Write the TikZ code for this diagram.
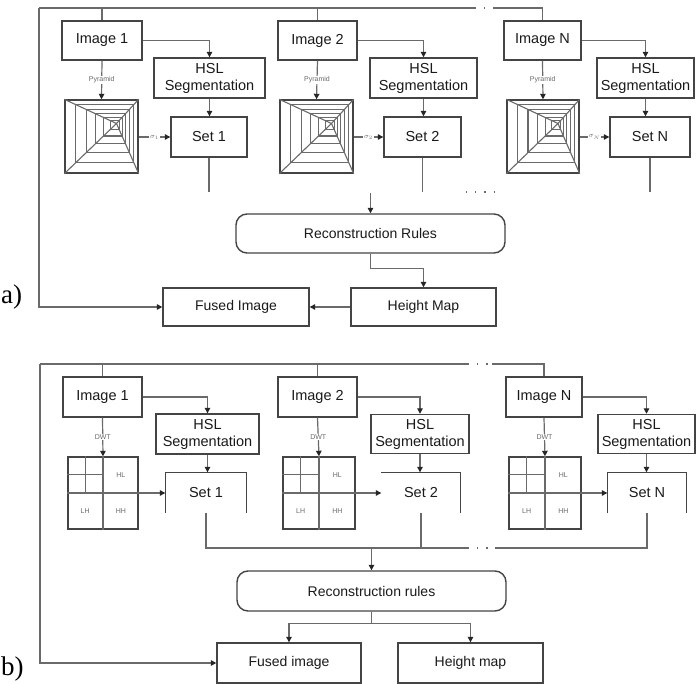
\documentclass[tikz,border=0pt]{standalone}
\usepackage{fontspec}
\setmainfont{Liberation Sans}
\newfontfamily\serifA{Liberation Serif}
\usetikzlibrary{arrows.meta,calc}
\definecolor{lc}{HTML}{6A6A6A}
\definecolor{bc}{HTML}{444444}
\definecolor{tc}{HTML}{1A1A1A}
\tikzset{
 box/.style={draw=bc, line width=1.4pt, inner sep=0pt, text=tc, font=\fontsize{14.5}{17}\selectfont, align=center},
 sbox/.style={box, font=\fontsize{14}{16}\selectfont},
 nobox/.style={box, draw=none},
 conn/.style={draw=lc, line width=1.2pt},
 outer/.style={draw=lc, line width=1.8pt},
 arr/.style={conn, -{Triangle[width=5.5pt,length=5.5pt,color=black!85]}},
 oarr/.style={outer, -{Triangle[width=5.5pt,length=5.5pt,color=black!85]}},
 lab/.style={fill=white, inner sep=1pt, text=lc, font=\fontsize{7}{8}\selectfont},
 glab/.style={inner sep=0pt, text=lc, font=\fontsize{7}{8}\selectfont},
 pyl/.style={draw=lc, line width=1.1pt},
 gridl/.style={draw=lc, line width=1.1pt},
 dots/.style={draw=lc, line width=1.2pt, dash pattern=on 1.2pt off 8pt},
 plabel/.style={inner sep=0pt, anchor=base west, text=black, font=\serifA\fontsize{27}{27}\selectfont},
}
\newcommand\pyrdraw[1]{%
 \coordinate (#1P) at ($(#1.center)+(15,-13)$);
 \foreach \t in {0.22,0.42,0.6,0.75,0.88}{
  \draw[pyl] ($(#1.north west)!\t!(#1P)$) rectangle ($(#1.south east)!\t!(#1P)$);
 }
 \draw[pyl] (#1.north west) -- (#1P);
 \draw[pyl] (#1.north east) -- (#1P);
 \draw[pyl] (#1.south west) -- (#1P);
 \draw[pyl] (#1.south east) -- (#1P);
}
\newcommand\griddraw[1]{%
 \draw[gridl] (#1.west) -- (#1.east);
 \draw[gridl] ($(#1.north west)!0.5!(#1.west)$) -- ($(#1.north)!0.5!(#1.center)$);
 \draw[gridl] ($(#1.north west)!0.5!(#1.north)$) -- ($(#1.west)!0.5!(#1.center)$);
 \draw[draw=lc, line width=2.4pt] (#1.north) -- (#1.south);
 \node[glab] (#1hl) at ($(#1.north east)!0.5!(#1.center)$) {HL};
 \node[glab] (#1lh) at ($(#1.south west)!0.5!(#1.center)$) {LH};
 \node[glab] (#1hh) at ($(#1.south east)!0.5!(#1.center)$) {HH};
}
\begin{document}
\begin{tikzpicture}[x=1pt,y=-1pt]
\useasboundingbox[fill=white] (0,0) rectangle (697,684);

% ================= part a =================
\node[box, minimum width=80pt, minimum height=39pt] (img1a) at (102,40.5) {Image 1};
\node[box, minimum width=79pt, minimum height=39pt] (img2a) at (317.5,40.5) {Image 2};
\node[box, minimum width=77pt, minimum height=39pt] (imgNa) at (542.5,40.5) {Image N};
\node[box, minimum width=111pt, minimum height=40pt] (hsl1a) at (209.5,78) {HSL\\Segmentation};
\node[box, minimum width=107pt, minimum height=40pt] (hsl2a) at (423.5,78) {HSL\\Segmentation};
\node[box, minimum width=97pt, minimum height=40pt] (hslNa) at (645.5,78) {HSL\\Segmentation};
\node[box, minimum width=76pt, minimum height=40pt] (set1a) at (209,137) {Set 1};
\node[box, minimum width=77pt, minimum height=40pt] (set2a) at (422.5,137) {Set 2};
\node[box, minimum width=80pt, minimum height=40pt] (setNa) at (650,137) {Set N};
\node[box, minimum width=73pt, minimum height=73pt] (pyr1) at (101.5,136.5) {};
\node[box, minimum width=73pt, minimum height=73pt] (pyr2) at (316.5,136.5) {};
\node[box, minimum width=72pt, minimum height=73pt] (pyrN) at (543,136.5) {};
\pyrdraw{pyr1}
\pyrdraw{pyr2}
\pyrdraw{pyrN}
\node[sbox, rounded corners=11pt, minimum width=269pt, minimum height=39pt] (recA) at (370.5,233.5) {Reconstruction Rules};
\node[sbox, minimum width=146pt, minimum height=38pt] (fusedA) at (236,307) {Fused Image};
\node[sbox, minimum width=145pt, minimum height=38pt] (heightA) at (423.5,307) {Height Map};

\coordinate (ca) at (39,8);
\coordinate (ga1) at (475,8);
\coordinate (ga2) at (495,8);
\draw[outer] (ca) -- (ga1);
\draw[dots] (ga1) -- (ga2);
\draw[outer] (ga2) -| (imgNa.north);
\draw[outer] (img1a.north |- ca) -- (img1a.north);
\draw[outer] (img2a.north |- ca) -- (img2a.north);
\draw[oarr] (ca) |- (fusedA.west);

\foreach \i in {1,2,N}{
 \draw[arr] (img\i a.east) -| (hsl\i a.north);
 \draw[arr] (hsl\i a.south) -- (hsl\i a.south |- set\i a.north);
 \draw[arr] (img\i a.south) -- node[lab] (py\i) {Pyramid} (pyr\i.north);
}
\draw[arr] (pyr1.east |- set1a.west) -- node[lab] (sg1) {$\sigma_1$} (set1a.west);
\draw[arr] (pyr2.east |- set2a.west) -- node[lab] (sg2) {$\sigma_2$} (set2a.west);
\draw[arr] (pyrN.east |- setNa.west) -- node[lab] (sgN) {$\sigma_N$} (setNa.west);

\coordinate (stA) at (0,192);
\draw[conn] (set1a.south) -- (set1a.south |- stA);
\draw[conn] (set2a.south) -- (set2a.south |- stA);
\draw[conn] (setNa.south) -- (setNa.south |- stA);
\coordinate (da1) at (466,192);
\coordinate (da2) at (502,192);
\draw[dots] (da1) -- (da2);
\draw[arr] (recA.north |- 0,193) -- (recA.north);
\draw[arr] (recA.south) -- ++(0,15) -| (heightA.north);
\draw[arr] (heightA.west) -- (fusedA.east);

\node[plabel] (la) at (1,304) {a)};

% ================= part b =================
\node[box, minimum width=79pt, minimum height=40pt] (img1b) at (102.5,397) {Image 1};
\node[box, minimum width=79pt, minimum height=40pt] (img2b) at (317.5,397) {Image 2};
\node[box, minimum width=76pt, minimum height=40pt] (imgNb) at (544,397) {Image N};
\node[box, minimum width=103pt, minimum height=40pt] (hsl1b) at (207.5,434) {HSL\\Segmentation};
\node[box, minimum width=98pt, minimum height=39pt] (hsl2b) at (420,434) {HSL\\Segmentation};
\node[box, minimum width=97pt, minimum height=39pt] (hslNb) at (646.5,434) {HSL\\Segmentation};
\node[nobox, minimum width=80pt, minimum height=39pt] (set1b) at (206,492.5) {Set 1};
\node[nobox, minimum width=78pt, minimum height=39pt] (set2b) at (421,492.5) {Set 2};
\node[nobox, minimum width=78pt, minimum height=39pt] (setNb) at (647,492.5) {Set N};
\draw[draw=bc, line width=1.4pt] (set1b.south west) -- (set1b.north west) -- (set1b.north east) -- (set1b.south east);
\draw[draw=bc, line width=1.4pt] (set2b.north west) -- (set2b.north east) -- (set2b.south east);
\draw[draw=bc, line width=1.4pt] (setNb.south west) -- (setNb.north west) -- (setNb.north east) -- (setNb.south east);
\node[box, minimum width=70pt, minimum height=72pt] (grid1) at (103,493) {};
\node[box, minimum width=72pt, minimum height=72pt] (grid2) at (319,493) {};
\node[box, minimum width=72pt, minimum height=72pt] (gridN) at (545,493) {};
\griddraw{grid1}
\griddraw{grid2}
\griddraw{gridN}
\node[sbox, rounded corners=11pt, minimum width=269pt, minimum height=40pt] (recB) at (371.5,591) {Reconstruction rules};
\node[sbox, minimum width=144pt, minimum height=40pt] (fusedB) at (289,663) {Fused image};
\node[sbox, minimum width=145pt, minimum height=40pt] (heightB) at (470.5,663) {Height map};

\coordinate (cb) at (40,364);
\coordinate (gb1) at (468,364);
\coordinate (gb2) at (492,364);
\draw[outer] (cb) -- (gb1);
\draw[dots] (gb1) -- (gb2);
\draw[outer] (gb2) -| (imgNb.north);
\draw[outer] (img1b.north |- cb) -- (img1b.north);
\draw[outer] (img2b.north |- cb) -- (img2b.north);
\draw[oarr] (cb) |- (fusedB.west);

\foreach \i in {1,2,N}{
 \draw[arr] (img\i b.east) -| (hsl\i b.north);
 \draw[arr] (hsl\i b.south) -- (hsl\i b.south |- set\i b.north);
 \draw[arr] (img\i b.south) -- node[lab] (dw\i) {DWT} (grid\i.north);
 \draw[arr] (grid\i.east) -- (grid\i.east -| set\i b.west);
}

\coordinate (colB) at (371.5,548);
\coordinate (gc1) at (468,548);
\coordinate (gc2) at (495,548);
\draw[outer] (set1b.south) |- (gc1);
\draw[dots] (gc1) -- (gc2);
\draw[outer] (gc2) -| (setNb.south);
\draw[outer] (set2b.south) -- (set2b.south |- colB);
\draw[arr] (colB) -- (recB.north);
\draw[conn] (recB.south) -- ++(0,12) coordinate (splitB);
\draw[arr] (splitB) -| (fusedB.north);
\draw[arr] (splitB) -| (heightB.north);

\node[plabel] (lb) at (1,676) {b)};
\end{tikzpicture}
\end{document}
